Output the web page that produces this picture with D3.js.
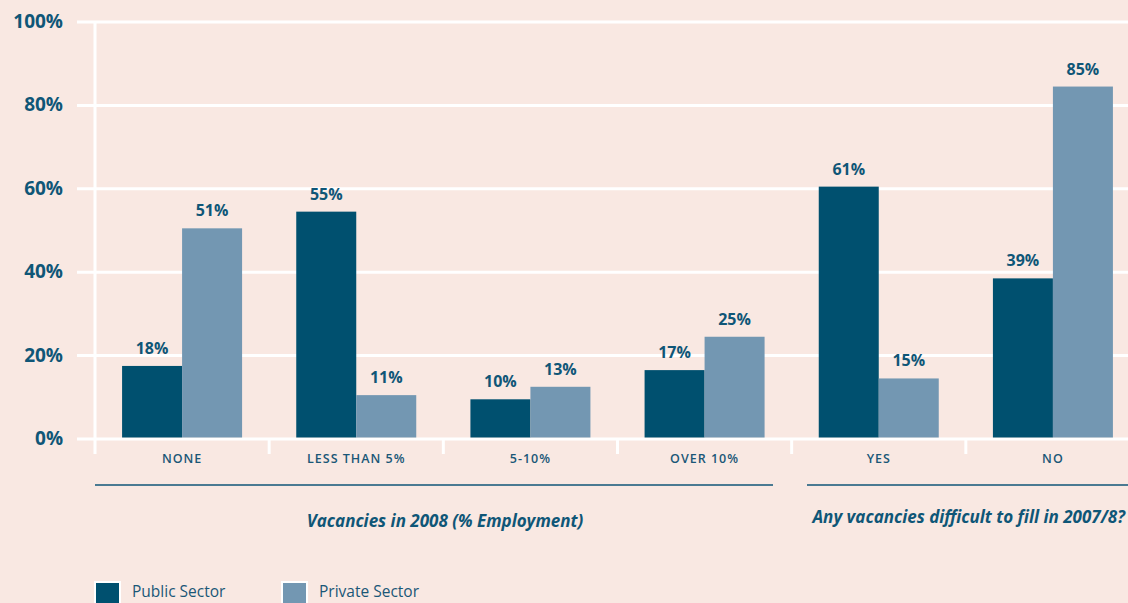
<!DOCTYPE html>
<html lang="en">
<head>
  <meta charset="UTF-8">
  <title>Vacancies by sector</title>
  <script src="https://d3js.org/d3.v7.min.js"></script>
  <style>
    html, body { margin:0; width:100%; height:100%; overflow:hidden; background:#f9e8e2; }
    svg { display:block; font-family:"Open Sans", "DejaVu Sans", sans-serif; }
    .grid line { stroke:#fff; stroke-width:3px; }
    .ylab { font-size:19px; font-weight:700; fill:#0f5677; }
    .val { font-size:16px; font-weight:700; fill:#0f5677; text-anchor:middle; }
    .cat { font-size:12.5px; font-weight:600; fill:#1a5777; text-anchor:middle; letter-spacing:1px; }
    .grp { font-size:17px; font-weight:700; font-style:italic; fill:#0f5677; }
    .leg { font-size:15.5px; fill:#1a5777; }
  </style>
</head>
<body>
  <svg id="chart" width="1128" height="603"></svg>
  <script>
    const categories = ["NONE", "LESS THAN 5%", "5-10%", "OVER 10%", "YES", "NO"];
    const publicSector = [18, 55, 10, 17, 61, 39];
    const privateSector = [51, 11, 13, 25, 15, 85];
    const yTicks = [0, 20, 40, 60, 80, 100];
    const groups = [
      { label: "Vacancies in 2008 (% Employment)", from: 0, to: 3 },
      { label: "Any vacancies difficult to fill in 2007/8?", from: 4, to: 5 }
    ];
    const seriesNames = ["Public Sector", "Private Sector"];
    const colors = ["#00506f", "#7397b2"];

    const svg = d3.select("#chart");
    const W = 1128, H = 603;
    const x = d3.scaleBand().domain(categories).range([95, 1140]);
    const y = d3.scaleLinear().domain([0, 100]).range([439, 22]);
    const barW = 60;

    // gridlines
    const grid = svg.append("g").attr("class", "grid");
    grid.selectAll("line.h").data(yTicks).join("line")
      .attr("class", "h")
      .attr("x1", 77).attr("x2", W)
      .attr("y1", d => y(d)).attr("y2", d => y(d));
    grid.append("line").attr("x1", 95).attr("x2", 95).attr("y1", y(100)).attr("y2", 454);
    grid.selectAll("line.t").data(categories.slice(1)).join("line")
      .attr("class", "t")
      .attr("x1", d => x(d)).attr("x2", d => x(d))
      .attr("y1", y(0)).attr("y2", 454);

    svg.selectAll(".ylab").data(yTicks).join("text")
      .attr("class", "ylab")
      .attr("x", 63).attr("y", d => y(d) + 6)
      .attr("text-anchor", "end")
      .text(d => d + "%");

    // bars
    const series = [publicSector, privateSector];
    series.forEach((vals, si) => {
      const g = svg.append("g");
      g.selectAll("rect").data(vals).join("rect")
        .attr("x", (d, i) => x(categories[i]) + x.bandwidth() / 2 - barW + si * barW)
        .attr("y", d => y(d) + 2)
        .attr("width", barW)
        .attr("height", d => y(0) - y(d) - 3.5)
        .attr("fill", colors[si]);
      g.selectAll("text").data(vals).join("text")
        .attr("class", "val")
        .attr("x", (d, i) => x(categories[i]) + x.bandwidth() / 2 - barW / 2 + si * barW)
        .attr("y", d => y(d) - 10)
        .text(d => d + "%");
    });

    svg.selectAll(".cat").data(categories).join("text")
      .attr("class", "cat")
      .attr("x", d => x(d) + x.bandwidth() / 2)
      .attr("y", 463)
      .text(d => d);

    // group brackets
    const gx = [[95, 773], [807, W]];
    groups.forEach((g, i) => {
      svg.append("line")
        .attr("x1", gx[i][0]).attr("x2", gx[i][1])
        .attr("y1", 485).attr("y2", 485)
        .attr("stroke", "#0f5677").attr("stroke-width", 1.5);
    });
    svg.append("text").attr("class", "grp")
      .attr("x", 445).attr("y", 527).attr("text-anchor", "middle")
      .text(groups[0].label);
    svg.append("text").attr("class", "grp")
      .attr("x", 1125).attr("y", 523).attr("text-anchor", "end")
      .text(groups[1].label);

    // legend
    const legX = [95, 282];
    seriesNames.forEach((n, i) => {
      svg.append("rect")
        .attr("x", legX[i]).attr("y", 582).attr("width", 25).attr("height", 25)
        .attr("fill", colors[i]).attr("stroke", "#fff").attr("stroke-width", 2);
      svg.append("text").attr("class", "leg")
        .attr("x", legX[i] + 37).attr("y", 597)
        .text(n);
    });
  </script>
</body>
</html>
